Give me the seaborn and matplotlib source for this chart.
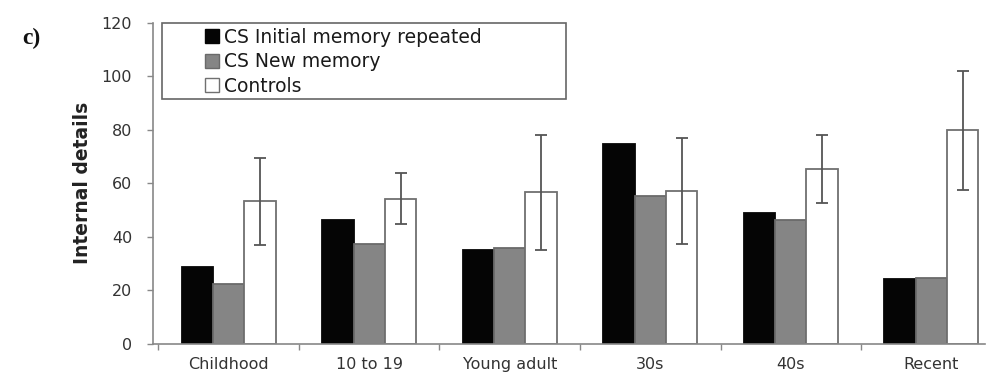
import matplotlib
matplotlib.use("Agg")
import matplotlib.pyplot as plt
from matplotlib.patches import Rectangle
from matplotlib.ticker import FixedLocator
import numpy as np
import pandas as pd
import seaborn as sns

# Internal details per life period
periods = ["Childhood", "10 to 19", "Young adult", "30s", "40s", "Recent"]
groups = ["CS Initial memory repeated", "CS New memory", "Controls"]
cs_initial = [28.5, 46.3, 35.0, 74.8, 48.8, 24.1]
cs_new = [22.3, 37.3, 35.8, 55.3, 46.3, 24.4]
controls = [53.2, 54.2, 56.5, 57.1, 65.2, 79.7]
controls_err = [16.3, 9.6, 21.5, 19.7, 12.7, 22.3]

sns.set_style("white")
plt.rcParams["font.family"] = ["DejaVu Sans"]

df = pd.DataFrame({
    "period": periods * 3,
    "group": [g for g in groups for _ in periods],
    "value": cs_initial + cs_new + controls,
})

fig = plt.figure(figsize=(9.94, 3.86), dpi=100)
ax = fig.add_axes([0.1539, 0.1101, 0.837, 0.831])

palette = {groups[0]: "#050505", groups[1]: "#858585", groups[2]: "#ffffff"}
sns.barplot(data=df, x="period", y="value", hue="group", order=periods,
            hue_order=groups, palette=palette, width=0.67, errorbar=None,
            saturation=1, legend=False, ax=ax)

edge_cols = ["#050505", "#6a6a6a", "#707070"]
for gi, container in enumerate(ax.containers):
    for bar in container:
        bar.set_edgecolor(edge_cols[gi])
        bar.set_linewidth(1.3)

# Error bars on the control bars
ctrl_bars = ax.containers[2]
xs = [b.get_x() + b.get_width() / 2 for b in ctrl_bars]
ax.errorbar(xs, controls, yerr=controls_err, fmt="none", ecolor="#555555",
            elinewidth=1.3, capsize=4, capthick=1.3, zorder=5)

ax.set_ylim(0, 120)
ax.set_xlim(-0.539, 5.382)
ax.set_yticks(np.arange(0, 121, 20))
ax.xaxis.set_minor_locator(FixedLocator(np.arange(-0.5, 5.6, 1.0)))
ax.tick_params(axis="x", which="major", length=0, pad=10, labelsize=11.5,
               labelcolor="#333333")
ax.tick_params(axis="x", which="minor", length=4, width=1, color="#888888",
               direction="out", bottom=True)
ax.tick_params(axis="y", length=4, width=1, color="#888888", direction="out",
               left=True, labelsize=11.5, labelcolor="#333333", pad=11)
ax.set_xlabel("")
ax.set_ylabel("Internal details", fontsize=13.5, fontweight="bold",
              color="#222222", labelpad=7)

for side in ["top", "right"]:
    ax.spines[side].set_visible(False)
for side in ["left", "bottom"]:
    ax.spines[side].set_color("#888888")
    ax.spines[side].set_linewidth(1.2)

# Legend: framed box with indented square keys
frame = Rectangle((0.0108, 0.761), 0.4862, 0.239, transform=ax.transAxes,
                  facecolor="white", edgecolor="#666666", linewidth=1.2,
                  clip_on=False, zorder=6)
ax.add_patch(frame)
handles = [Rectangle((0, 0), 1, 1, facecolor=palette[g], edgecolor=edge_cols[i],
                     linewidth=1.0) for i, g in enumerate(groups)]
leg = ax.legend(handles, groups, loc="upper left", bbox_to_anchor=(0.0625, 0.985),
                frameon=False, borderpad=0, borderaxespad=0,
                handlelength=0.75, handleheight=0.75, handletextpad=0.25,
                labelspacing=0.3, fontsize=13.5, labelcolor="#1a1a1a")
leg.set_zorder(7)

fig.text(0.022, 0.885, "c)", fontsize=17, fontweight="bold",
         family=["Liberation Serif", "DejaVu Serif"], color="#111111")

fig.savefig("out.png", dpi=100)
